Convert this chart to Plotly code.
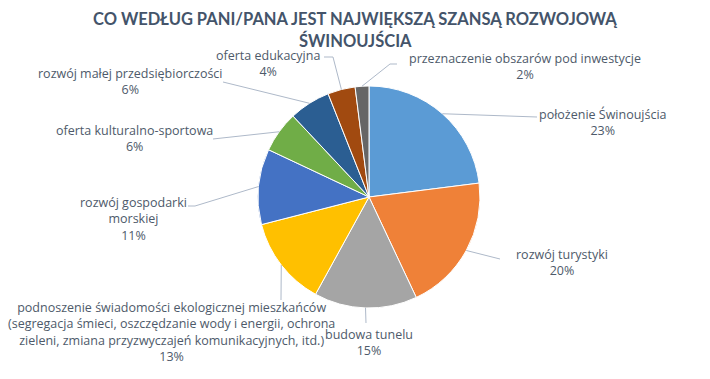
import math
import plotly.graph_objects as go

# ---- data ----
categories = [
    "położenie Świnoujścia",
    "rozwój turystyki",
    "budowa tunelu",
    "podnoszenie świadomości ekologicznej mieszkańców<br>(segregacja śmieci, oszczędzanie wody i energii, ochrona<br>zieleni, zmiana przyzwyczajeń komunikacyjnych, itd.)",
    "rozwój gospodarki<br>morskiej",
    "oferta kulturalno-sportowa",
    "rozwój małej przedsiębiorczości",
    "oferta edukacyjna",
    "przeznaczenie obszarów pod inwestycje",
]
values = [23, 20, 15, 13, 11, 6, 6, 4, 2]
title_lines = ["CO WEDŁUG PANI/PANA JEST NAJWIĘKSZĄ SZANSĄ ROZWOJOWĄ", "ŚWINOUJŚCIA"]

# ---- styling / layout ----
colors = ["#5B9BD5", "#EF8138", "#A5A5A5", "#FFC000", "#4472C4",
          "#70AD47", "#2B5E92", "#A14A10", "#666666"]
W, H = 710, 379
CX, CY, R = 369, 197, 111
text_color = "#4E5A6A"
line_color = "#AEB9C9"
FONT = "Open Sans"

# label centers (px) and leader-line end points near label (px)
label_pos = [(603, 122), (562, 262), (369, 342), (171, 332), (133, 219),
             (134, 138), (130, 81), (268, 64), (525, 66)]
leader_end = [
    [(537, 117)],
    [(500, 259)],
    [(366, 323)],
    [(281, 300)],
    [(195, 206), (188, 206)],
    [(213, 139)],
    [(223, 82)],
    [(333, 57), (324, 57)],
    [(390, 64), (397, 64)],
]
title_pos = [(355, 19), (355, 41)]

def px(x):
    return x / W

def py(y):
    return 1 - y / H

fig = go.Figure()
fig.add_trace(go.Pie(
    labels=categories,
    values=values,
    sort=False,
    direction="clockwise",
    rotation=0,
    textinfo="none",
    hoverinfo="label+percent",
    marker=dict(colors=colors, line=dict(color="white", width=1)),
    domain=dict(x=[px(CX - R), px(CX + R)], y=[py(CY + R), py(CY - R)]),
    showlegend=False,
))

total = sum(values)
cum = 0
shapes = []
annotations = []
for i, (cat, v) in enumerate(zip(categories, values)):
    mid = (cum + v / 2) / total * 2 * math.pi
    cum += v
    sx = CX + R * math.sin(mid)
    sy = CY - R * math.cos(mid)
    pts = [(sx, sy)] + leader_end[i]
    path = "M " + " L ".join(f"{px(a):.5f},{py(b):.5f}" for a, b in pts)
    shapes.append(dict(type="path", path=path, xref="paper", yref="paper",
                       line=dict(color=line_color, width=1)))
    lx, ly = label_pos[i]
    pct = round(v / total * 100)
    annotations.append(dict(
        x=px(lx), y=py(ly), xref="paper", yref="paper",
        text=f"{cat}<br>{pct}%", showarrow=False,
        xanchor="center", yanchor="middle", align="center", borderpad=0,
        font=dict(family=FONT, size=12.5, color=text_color),
    ))

for t, (tx, ty) in zip(title_lines, title_pos):
    annotations.append(dict(
        x=px(tx), y=py(ty), xref="paper", yref="paper",
        text=f"<b>{t}</b>", showarrow=False, borderpad=0,
        xanchor="center", yanchor="middle",
        font=dict(family="Lato", size=16.5, color="#44546A"),
    ))

fig.update_layout(
    width=W, height=H,
    margin=dict(l=0, r=0, t=0, b=0),
    paper_bgcolor="white", plot_bgcolor="white",
    shapes=shapes, annotations=annotations,
)

fig.write_html("out.html", config={"displayModeBar": False},
               post_script="document.body.style.margin='0';")
